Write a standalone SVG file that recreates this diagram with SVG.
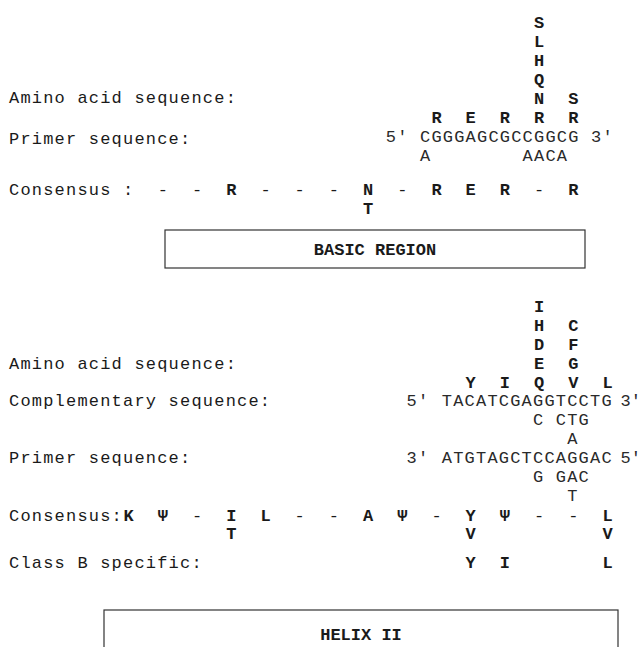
<svg xmlns="http://www.w3.org/2000/svg" width="642" height="647" viewBox="0 0 642 647">
<style>
text{font-family:"Liberation Mono","DejaVu Sans Mono",monospace;font-size:17px;fill:#1a1a1a}
.l{letter-spacing:1.2px}
.s{letter-spacing:1.2px;fill:#2a2a2a}
.e{fill:#2a2a2a}
.b{font-weight:bold;text-anchor:middle}
.d{text-anchor:middle}
.box{fill:none;stroke:#333;stroke-width:1.2}
.bt{font-weight:bold;text-anchor:middle}
</style>
<rect width="642" height="647" fill="#fff"/>
<g id="top-labels">
<text class="l" x="9" y="103">Amino acid sequence:</text>
<text class="l" x="9" y="144">Primer sequence:</text>
</g>
<g id="top-amino">
<text class="b" x="539.1" y="28">S</text>
<text class="b" x="539.1" y="47">L</text>
<text class="b" x="539.1" y="66">H</text>
<text class="b" x="539.1" y="85">Q</text>
<text class="b" x="539.1" y="104">N</text>
<text class="b" x="573.3" y="104">S</text>
<text class="b" x="436.5" y="123">R</text>
<text class="b" x="470.7" y="123">E</text>
<text class="b" x="504.9" y="123">R</text>
<text class="b" x="539.1" y="123">R</text>
<text class="b" x="573.3" y="123">R</text>
</g>
<g id="top-primer">
<text class="s" x="385.8" y="142">5′</text>
<text class="s" x="420" y="142">CGGGAGCGCCGGCG</text>
<text class="s" x="591" y="142">3′</text>
<text class="s" x="420" y="161">A</text>
<text class="s" x="522.6" y="161">AACA</text>
</g>
<g id="top-consensus">
<text class="l" x="9" y="195">Consensus :</text>
<text class="d" x="162.9" y="195">-</text>
<text class="d" x="197.1" y="195">-</text>
<text class="b" x="231.3" y="195">R</text>
<text class="d" x="265.5" y="195">-</text>
<text class="d" x="299.7" y="195">-</text>
<text class="d" x="333.9" y="195">-</text>
<text class="b" x="368.1" y="195">N</text>
<text class="b" x="368.1" y="214">T</text>
<text class="d" x="402.3" y="195">-</text>
<text class="b" x="436.5" y="195">R</text>
<text class="b" x="470.7" y="195">E</text>
<text class="b" x="504.9" y="195">R</text>
<text class="d" x="539.1" y="195">-</text>
<text class="b" x="573.3" y="195">R</text>
</g>
<g id="basic-region">
<rect class="box" x="165" y="230" width="420" height="38"/>
<text class="bt" x="375" y="255">BASIC REGION</text>
</g>
<g id="bottom-labels">
<text class="l" x="9" y="369">Amino acid sequence:</text>
<text class="l" x="9" y="406">Complementary sequence:</text>
<text class="l" x="9" y="463">Primer sequence:</text>
<text class="l" x="9" y="568">Class B specific:</text>
</g>
<g id="bottom-amino">
<text class="b" x="539.1" y="312">I</text>
<text class="b" x="539.1" y="331">H</text>
<text class="b" x="573.3" y="331">C</text>
<text class="b" x="539.1" y="350">D</text>
<text class="b" x="573.3" y="350">F</text>
<text class="b" x="539.1" y="369">E</text>
<text class="b" x="573.3" y="369">G</text>
<text class="b" x="470.7" y="388">Y</text>
<text class="b" x="504.9" y="388">I</text>
<text class="b" x="539.1" y="388">Q</text>
<text class="b" x="573.3" y="388">V</text>
<text class="b" x="607.5" y="388">L</text>
</g>
<g id="bottom-complementary">
<text class="s" x="406.6" y="406">5′</text>
<text class="s" x="441.8" y="406">TACATCGAGGTCCTG</text>
<text class="e" x="620.5" y="406">3′</text>
<text class="s" x="533" y="425">C CTG</text>
<text class="s" x="567.2" y="444">A</text>
</g>
<g id="bottom-primer">
<text class="s" x="406.6" y="463">3′</text>
<text class="s" x="441.8" y="463">ATGTAGCTCCAGGAC</text>
<text class="e" x="620.5" y="463">5′</text>
<text class="s" x="533" y="482">G GAC</text>
<text class="s" x="567.2" y="501">T</text>
</g>
<g id="bottom-consensus">
<text class="l" x="9" y="521">Consensus:</text>
<text class="b" x="128.7" y="521">K</text>
<text class="b" x="162.9" y="521">Ψ</text>
<text class="d" x="197.1" y="521">-</text>
<text class="b" x="231.3" y="521">I</text>
<text class="b" x="231.3" y="539">T</text>
<text class="b" x="265.5" y="521">L</text>
<text class="d" x="299.7" y="521">-</text>
<text class="d" x="333.9" y="521">-</text>
<text class="b" x="368.1" y="521">A</text>
<text class="b" x="402.3" y="521">Ψ</text>
<text class="d" x="436.5" y="521">-</text>
<text class="b" x="470.7" y="521">Y</text>
<text class="b" x="470.7" y="539">V</text>
<text class="b" x="504.9" y="521">Ψ</text>
<text class="d" x="539.1" y="521">-</text>
<text class="d" x="573.3" y="521">-</text>
<text class="b" x="607.5" y="521">L</text>
<text class="b" x="607.5" y="539">V</text>
</g>
<g id="class-b">
<text class="b" x="470.7" y="568">Y</text>
<text class="b" x="504.9" y="568">I</text>
<text class="b" x="607.5" y="568">L</text>
</g>
<g id="helix-ii">
<rect class="box" x="104" y="610" width="514" height="50"/>
<text class="bt" x="361" y="640">HELIX II</text>
</g>
</svg>
